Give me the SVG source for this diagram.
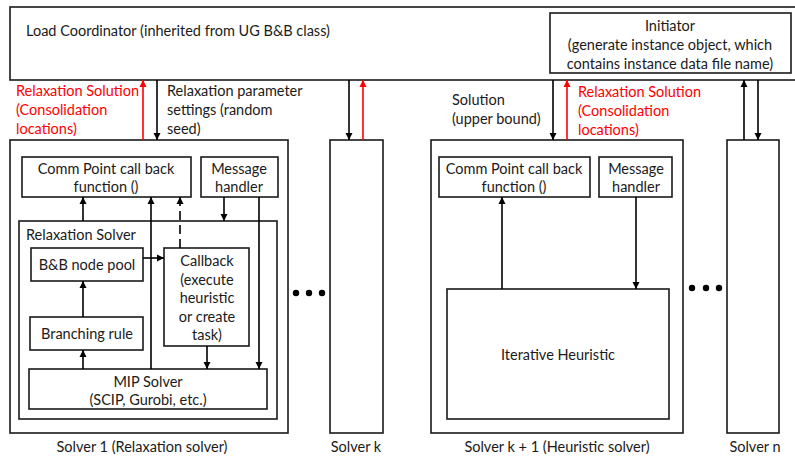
<svg xmlns="http://www.w3.org/2000/svg" width="795" height="457" viewBox="0 0 795 457">
<defs>
<marker id="ah" viewBox="0 0 10 10" refX="10" refY="5" markerWidth="7" markerHeight="8" markerUnits="userSpaceOnUse" orient="auto"><path d="M0,0 L10,5 L0,10 Z" fill="#000"/></marker>
<marker id="ahr" viewBox="0 0 10 10" refX="10" refY="5" markerWidth="7" markerHeight="8" markerUnits="userSpaceOnUse" orient="auto"><path d="M0,0 L10,5 L0,10 Z" fill="#f00"/></marker>
</defs>
<style>
text{font-family:Lato,"Liberation Sans",sans-serif;font-size:14.5px;fill:#1a1a1a}
.red{fill:#f00}
.m{text-anchor:middle}
.box{fill:#fff;stroke:#1a1a1a;stroke-width:1.6}
.c{fill:none;stroke:#000;stroke-width:1.6}
.cr{fill:none;stroke:#f00;stroke-width:1.6}
.ar{marker-end:url(#ah)}
.arr{marker-end:url(#ahr)}
.dash{stroke-dasharray:9,5}
</style>
<rect width="795" height="457" fill="#fff"/>

<g id="load-coordinator">
<rect class="box" x="10" y="7" width="800" height="73"/>
<text x="26" y="36">Load Coordinator (inherited from UG B&amp;B class)</text>
</g>
<g id="initiator">
<rect class="box" x="550" y="13" width="241" height="60"/>
<text class="m" x="670" y="31">Initiator</text>
<text class="m" x="670" y="50">(generate instance object, which</text>
<text class="m" x="670" y="69">contains instance data file name)</text>
</g>

<g id="solver1">
<rect class="box" x="10" y="140" width="278" height="293"/>
<text class="m" x="142" y="452">Solver 1 (Relaxation solver)</text>
</g>
<g id="comm1">
<rect class="box" x="22" y="157" width="169" height="40"/>
<text class="m" x="106" y="174">Comm Point call back</text>
<text class="m" x="106" y="192">function ()</text>
</g>
<g id="msg1">
<rect class="box" x="201" y="157" width="77" height="40"/>
<text class="m" x="239" y="174">Message</text>
<text class="m" x="239" y="192">handler</text>
</g>
<g id="relaxation-solver">
<rect class="box" x="19" y="221" width="258" height="198"/>
<text x="26" y="240">Relaxation Solver</text>
</g>
<g id="bb-pool">
<rect class="box" x="31" y="248" width="112" height="33"/>
<text class="m" x="87" y="270">B&amp;B node pool</text>
</g>
<g id="callback">
<rect class="box" x="164" y="248" width="85" height="98"/>
<text class="m" x="207" y="266">Callback</text>
<text class="m" x="207" y="285">(execute</text>
<text class="m" x="207" y="303">heuristic</text>
<text class="m" x="207" y="322">or create</text>
<text class="m" x="207" y="340">task)</text>
</g>
<g id="branching">
<rect class="box" x="30" y="317" width="113" height="33"/>
<text class="m" x="87" y="339">Branching rule</text>
</g>
<g id="mip">
<rect class="box" x="29" y="369" width="238" height="40"/>
<text class="m" x="148" y="387">MIP Solver</text>
<text class="m" x="148" y="405">(SCIP, Gurobi, etc.)</text>
</g>

<g id="solverk">
<rect class="box" x="330" y="140" width="53" height="293"/>
<text class="m" x="356" y="452">Solver k</text>
</g>

<g id="solverk1">
<rect class="box" x="431" y="140" width="252" height="293"/>
<text class="m" x="557" y="452">Solver k + 1 (Heuristic solver)</text>
</g>
<g id="comm2">
<rect class="box" x="439" y="157" width="151" height="40"/>
<text class="m" x="514" y="174">Comm Point call back</text>
<text class="m" x="514" y="192">function ()</text>
</g>
<g id="msg2">
<rect class="box" x="599" y="157" width="73" height="40"/>
<text class="m" x="636" y="174">Message</text>
<text class="m" x="636" y="192">handler</text>
</g>
<g id="iterative">
<rect class="box" x="447" y="289" width="222" height="130"/>
<text class="m" x="558" y="360">Iterative Heuristic</text>
</g>

<g id="solvern">
<rect class="box" x="727" y="140" width="52" height="293"/>
<text class="m" x="755" y="452">Solver n</text>
</g>

<g id="dots">
<circle cx="296" cy="293" r="3.2"/><circle cx="309" cy="293" r="3.2"/><circle cx="322" cy="293" r="3.2"/>
<circle cx="692" cy="288" r="3.2"/><circle cx="706" cy="288" r="3.2"/><circle cx="719" cy="288" r="3.2"/>
</g>

<g id="labels">
<text class="red" x="16" y="96">Relaxation Solution</text>
<text class="red" x="16" y="115">(Consolidation</text>
<text class="red" x="16" y="134">locations)</text>
<text x="167" y="96">Relaxation parameter</text>
<text x="167" y="115">settings (random</text>
<text x="167" y="134">seed)</text>
<text x="452" y="105">Solution</text>
<text x="452" y="124">(upper bound)</text>
<text class="red" x="578" y="97">Relaxation Solution</text>
<text class="red" x="578" y="116">(Consolidation</text>
<text class="red" x="578" y="135">locations)</text>
</g>

<g id="connectors">
<line class="cr arr" x1="143" y1="140" x2="143" y2="80"/>
<line class="c ar" x1="157" y1="80" x2="157" y2="140"/>
<line class="c ar" x1="349" y1="80" x2="349" y2="140"/>
<line class="cr arr" x1="363" y1="140" x2="363" y2="80"/>
<line class="c ar" x1="553" y1="80" x2="553" y2="140"/>
<line class="cr arr" x1="567" y1="140" x2="567" y2="80"/>
<line class="c ar" x1="744" y1="140" x2="744" y2="80"/>
<line class="c ar" x1="758" y1="80" x2="758" y2="140"/>

<line class="c ar" x1="83" y1="221" x2="83" y2="197"/>
<line class="c ar" x1="151" y1="369" x2="151" y2="197"/>
<line class="c ar dash" x1="180" y1="248" x2="180" y2="197"/>
<line class="c ar" x1="224" y1="197" x2="224" y2="221"/>
<line class="c ar" x1="259" y1="197" x2="259" y2="369"/>
<line class="c ar" x1="143" y1="258" x2="164" y2="258"/>
<line class="c ar" x1="83" y1="317" x2="83" y2="281"/>
<line class="c ar" x1="83" y1="369" x2="83" y2="350"/>
<line class="c ar" x1="207" y1="346" x2="207" y2="369"/>

<line class="c ar" x1="502" y1="289" x2="502" y2="197"/>
<line class="c ar" x1="636" y1="197" x2="636" y2="289"/>
</g>
</svg>
